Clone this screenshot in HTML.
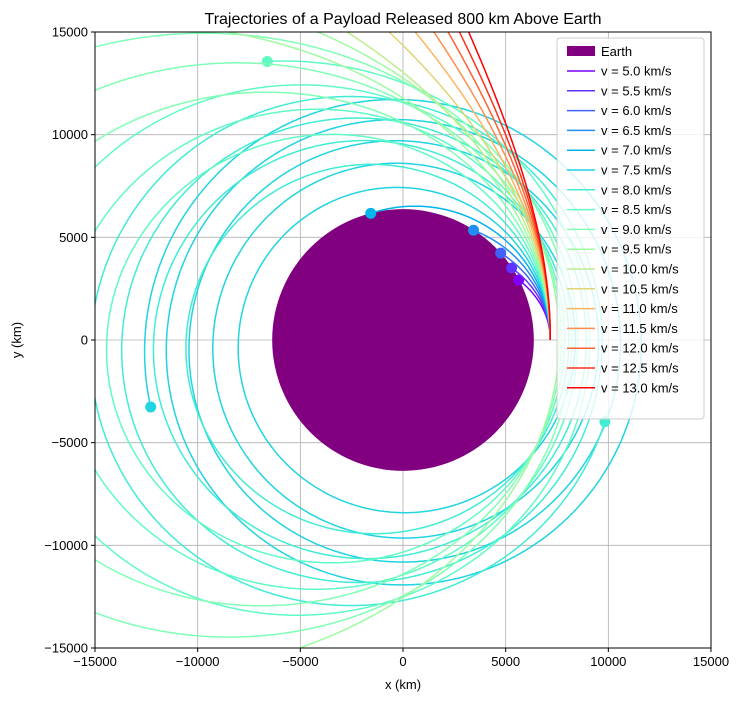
<!DOCTYPE html>
<html><head><meta charset="utf-8"><style>
html,body{margin:0;background:#fff;overflow:hidden;width:742px;height:701px}
svg{font-family:"Liberation Sans",sans-serif;display:block}
</style></head><body>
<svg id="chart" width="742" height="701" viewBox="0 0 742 701" xmlns="http://www.w3.org/2000/svg">
<defs><clipPath id="clip"><rect x="95" y="32" width="616" height="616"/></clipPath></defs>
<rect width="742" height="701" fill="#fff"/>
<text x="403" y="24" text-anchor="middle" font-size="16">Trajectories of a Payload Released 800 km Above Earth</text>
<g id="grid"></g>
<g id="plot" clip-path="url(#clip)"></g>
<rect x="95" y="32" width="616" height="616" fill="none" stroke="#000" stroke-width="1"/>
<g id="ticks"></g>
<text x="403" y="689" text-anchor="middle" font-size="13">x (km)</text>
<text x="21" y="340" text-anchor="middle" font-size="13" transform="rotate(-90 21 340)">y (km)</text>
<g id="legend"></g>
</svg>
<script>
const speeds = [5.0,5.5,6.0,6.5,7.0,7.5,8.0,8.5,9.0,9.5,10.0,10.5,11.0,11.5,12.0,12.5,13.0];
const xTicks = [-15000,-10000,-5000,0,5000,10000,15000];
const yTicks = [-15000,-10000,-5000,0,5000,10000,15000];
const earthRadius = 6371;
const releaseAltitude = 800;
const GM = 398600;
const dt = 14;
const totalTime = 45000;

const NS='http://www.w3.org/2000/svg';
const X0=95,X1=711,Y0=32,Y1=648;
const sx=v=>X0+(v+15000)/30000*(X1-X0);
const sy=v=>Y1-(v+15000)/30000*(Y1-Y0);
function mk(tag,attrs,parent){const e=document.createElementNS(NS,tag);for(const k in attrs)e.setAttribute(k,attrs[k]);parent.appendChild(e);return e;}
function rainbow(x){const c=v=>Math.max(0,Math.min(1,v));const r=c(Math.abs(2*x-0.5)),g=c(Math.sin(Math.PI*x)),b=c(Math.cos(Math.PI*x/2));return `rgb(${Math.round(r*255)},${Math.round(g*255)},${Math.round(b*255)})`;}

const grid=document.getElementById('grid'),ticks=document.getElementById('ticks'),plot=document.getElementById('plot'),legend=document.getElementById('legend');
xTicks.forEach(t=>{
  const l=mk('line',{x1:sx(t),x2:sx(t),y1:Y0,y2:Y1,stroke:'#b0b0b0','stroke-width':0.8},grid);
  
  const k=mk('line',{x1:sx(t),x2:sx(t),y1:Y1,y2:Y1+4,stroke:'#000'},ticks);
  
  const tx=mk('text',{x:sx(t),y:Y1+18,'text-anchor':'middle','font-size':13},ticks);tx.textContent=String(t).replace('-','\u2212');
  
});
yTicks.forEach(t=>{
  const l=mk('line',{x1:X0,x2:X1,y1:sy(t),y2:sy(t),stroke:'#b0b0b0','stroke-width':0.8},grid);
  
  const k=mk('line',{x1:X0-4,x2:X0,y1:sy(t),y2:sy(t),stroke:'#000'},ticks);
  
  const tx=mk('text',{x:X0-7,y:sy(t)+4.5,'text-anchor':'end','font-size':13},ticks);tx.textContent=String(t).replace('-','\u2212');
  
});
const earth=mk('circle',{cx:sx(0),cy:sy(0),r:sx(earthRadius)-sx(0),fill:'#800080'},plot);


const r0=earthRadius+releaseAltitude;
speeds.forEach((v,i)=>{
  const col=rainbow(i/(speeds.length-1));
  let x=r0,y=0,vx=0,vy=v,t=0;const pts=[[x,y]];
  while(t<totalTime){
    const r=Math.hypot(x,y);const a=-GM/(r*r*r);
    const ax=a*x,ay=a*y;
    x+=vx*dt;y+=vy*dt;vx+=ax*dt;vy+=ay*dt;t+=dt;
    pts.push([x,y]);
    const rn=Math.hypot(x,y);
    if(rn<earthRadius||rn>80000)break;
  }
  const d=pts.map((p,j)=>(j?'L':'M')+sx(p[0]).toFixed(1)+' '+sy(p[1]).toFixed(1)).join('');
  const path=mk('path',{d:d,fill:'none',stroke:col,'stroke-width':1.5},plot);
  
  
  const e=pts[pts.length-1];
  const dot=mk('circle',{cx:sx(e[0]),cy:sy(e[1]),r:5.5,fill:col},plot);
  
  
});

const box=mk('rect',{x:557,y:38,width:147,height:381,rx:3,fill:'#fff','fill-opacity':0.8,stroke:'#ccc'},legend);

const ep=mk('rect',{x:567,y:46,width:28,height:10,fill:'#800080'},legend);

const et=mk('text',{x:601,y:56,'font-size':13},legend);et.textContent='Earth';

speeds.forEach((v,i)=>{
  const yy=71+i*19.8;
  const l=mk('line',{x1:567,x2:595,y1:yy,y2:yy,stroke:rainbow(i/(speeds.length-1)),'stroke-width':1.5},legend);
  
  const tx=mk('text',{x:601,y:yy+4.5,'font-size':13},legend);tx.textContent='v = '+v.toFixed(1)+' km/s';
  
});
</script>
</body></html>
